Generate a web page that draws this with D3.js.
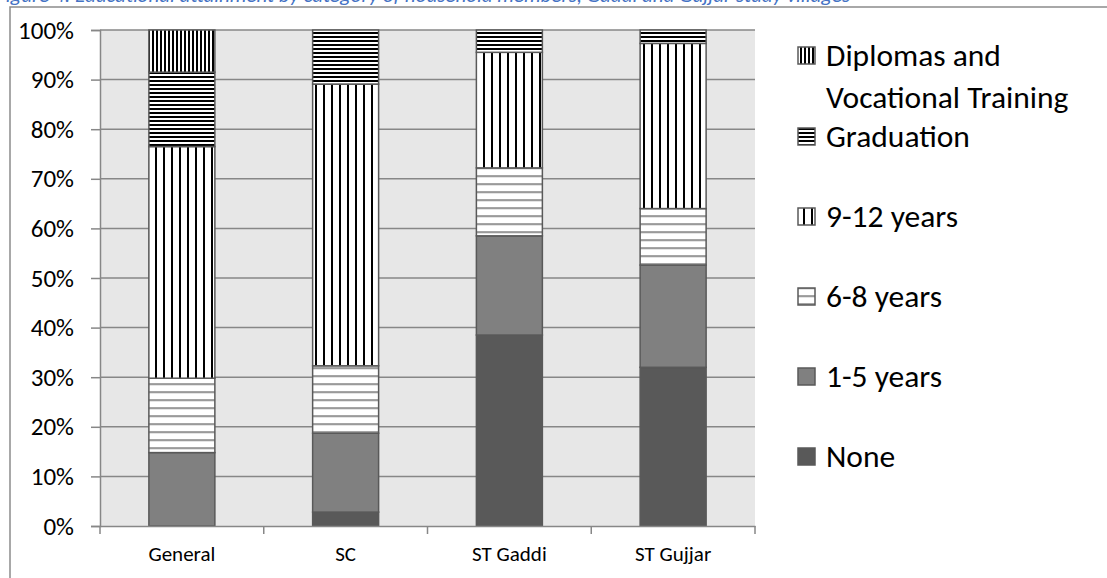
<!DOCTYPE html>
<html>
<head>
<meta charset="utf-8">
<script src="https://cdn.jsdelivr.net/npm/d3@7"></script>
<style>
  html, body { margin: 0; padding: 0; background: #fff; }
  svg { display: block; }
  text { font-family: Carlito, Lato, "Noto Sans", sans-serif; fill: #000; font-weight: 400; }
</style>
</head>
<body>
<svg id="chart" width="1107" height="578"></svg>
<script>
// Education level shares (%) by social category
const categories = ["General", "SC", "ST Gaddi", "ST Gujjar"];
const seriesNames = ["None", "1-5 years", "6-8 years", "9-12 years", "Graduation", "Diplomas and Vocational Training"];
const noneVals       = [0.0,  2.8, 38.5, 32.0];
const years1to5Vals  = [14.8, 15.9, 20.0, 20.6];
const years6to8Vals  = [15.0, 13.6, 13.7, 11.4];
const years9to12Vals = [46.7, 56.8, 23.3, 33.3];
const graduationVals = [15.0, 10.9,  4.5,  2.7];
const diplomaVals    = [8.5,  0.0,  0.0,  0.0];
const yTickValues = [0, 10, 20, 30, 40, 50, 60, 70, 80, 90, 100];

const seriesValues = [noneVals, years1to5Vals, years6to8Vals, years9to12Vals, graduationVals, diplomaVals];
const rows = categories.map((c, i) => {
  const r = { category: c };
  seriesNames.forEach((s, j) => { r[s] = seriesValues[j][i]; });
  return r;
});

const svg = d3.select("#chart");
const W = 1107, H = 578;
const plot = { left: 100, right: 755, top: 30, bottom: 526 };

// fills for each series
const defs = svg.append("defs");
function stripePattern(id, size, horizontal, thick, color, offset) {
  const p = defs.append("pattern")
    .attr("id", id)
    .attr("patternUnits", "userSpaceOnUse")
    .attr("width", size).attr("height", size)
    .attr(horizontal ? "y" : "x", offset);
  p.append("rect").attr("width", size).attr("height", size).attr("fill", "#fff");
  if (horizontal) p.append("rect").attr("width", size).attr("height", thick).attr("fill", color);
  else p.append("rect").attr("width", thick).attr("height", size).attr("fill", color);
}
stripePattern("p-dipl", 4, false, 2, "#000", 0);
stripePattern("p-grad", 4, true, 2, "#000", 0);
stripePattern("p-912", 8, false, 2, "#000", 3);
stripePattern("p-68", 8, true, 1.7, "#7f7f7f", 7.3);

const fills = {
  "None": "#595959",
  "1-5 years": "#808080",
  "6-8 years": "url(#p-68)",
  "9-12 years": "url(#p-912)",
  "Graduation": "url(#p-grad)",
  "Diplomas and Vocational Training": "url(#p-dipl)"
};

// caption line (runs off the top edge) and frame
svg.append("rect").attr("width", W).attr("height", H).attr("fill", "#fff");
svg.append("text")
  .attr("x", -4).attr("y", 2)
  .style("font-size", "21px").style("font-style", "italic").style("fill", "#4472c4")
  .text("Figure 4: Educational attainment by category of household members, Gaddi and Gujjar study villages");
svg.append("path")
  .attr("d", `M10,${H} V7 H${W}`)
  .attr("fill", "none").attr("stroke", "#8c8c8c").attr("stroke-width", 1.5);

const x = d3.scaleBand().domain(categories).range([plot.left, plot.right]);
const y = d3.scaleLinear().domain([0, 100]).range([plot.bottom, plot.top]);
const barW = x.bandwidth() * 0.403;

// plot background and gridlines
svg.append("rect")
  .attr("x", plot.left).attr("y", plot.top)
  .attr("width", plot.right - plot.left).attr("height", plot.bottom - plot.top)
  .attr("fill", "#e7e7e7");
svg.append("g").selectAll("line")
  .data(yTickValues.filter(v => v > 0))
  .join("line")
  .attr("x1", plot.left).attr("x2", plot.right)
  .attr("y1", d => y(d)).attr("y2", d => y(d))
  .attr("stroke", "#878787").attr("stroke-width", 1.5);

// stacked bars
const stacked = d3.stack().keys(seriesNames)(rows);
svg.append("g").selectAll("g")
  .data(stacked)
  .join("g")
  .attr("fill", d => fills[d.key])
  .selectAll("rect")
  .data(d => d.filter(s => s[1] - s[0] > 0))
  .join("rect")
  .attr("x", d => x(d.data.category) + (x.bandwidth() - barW) / 2)
  .attr("width", barW)
  .attr("y", d => y(d[1]))
  .attr("height", d => y(d[0]) - y(d[1]))
  .attr("stroke", "#595959").attr("stroke-width", 1.5);

// y axis
const yAxis = svg.append("g")
  .attr("transform", `translate(${plot.left},0)`)
  .call(d3.axisLeft(y).tickValues(yTickValues).tickFormat(d => d + "%").tickSize(9).tickPadding(17));
yAxis.select(".domain").attr("stroke", "#878787").attr("stroke-width", 1.5);
yAxis.selectAll(".tick line").attr("stroke", "#878787").attr("stroke-width", 1.5);
yAxis.selectAll(".tick text").style("font-size", "25px").style("font-family", "Carlito, Lato, sans-serif").attr("fill", "#000");

// x axis
const xAxis = svg.append("g")
  .attr("transform", `translate(0,${plot.bottom})`)
  .call(d3.axisBottom(x).tickSize(0).tickPadding(20));
xAxis.select(".domain").attr("stroke", "#878787").attr("stroke-width", 1.5);
xAxis.selectAll(".tick text").style("font-size", "21px").style("font-family", "Carlito, Lato, sans-serif").attr("fill", "#000");
const bounds = categories.map(c => x(c)).concat([x(categories[categories.length - 1]) + x.bandwidth()]);
svg.append("g").selectAll("line")
  .data(bounds)
  .join("line")
  .attr("x1", d => d).attr("x2", d => d)
  .attr("y1", plot.bottom).attr("y2", plot.bottom + 8)
  .attr("stroke", "#878787").attr("stroke-width", 1.5);

// legend (top entry first)
const legendItems = [
  { key: "Diplomas and Vocational Training", lines: ["Diplomas and", "Vocational Training"], base: 66 },
  { key: "Graduation", lines: ["Graduation"], base: 147 },
  { key: "9-12 years", lines: ["9-12 years"], base: 227 },
  { key: "6-8 years", lines: ["6-8 years"], base: 307 },
  { key: "1-5 years", lines: ["1-5 years"], base: 387 },
  { key: "None", lines: ["None"], base: 467 }
];
const lg = svg.append("g").selectAll("g").data(legendItems).join("g");
lg.append("rect")
  .attr("x", 798).attr("y", d => d.base - 19)
  .attr("width", 17).attr("height", 17)
  .attr("fill", d => fills[d.key])
  .attr("stroke", "#595959").attr("stroke-width", 1.5);
lg.append("text")
  .attr("x", 826).attr("y", d => d.base)
  .style("font-size", "31.5px")
  .selectAll("tspan")
  .data(d => d.lines)
  .join("tspan")
  .attr("x", 826)
  .attr("dy", (d, i) => i === 0 ? 0 : 42)
  .text(d => d);
</script>
</body>
</html>
